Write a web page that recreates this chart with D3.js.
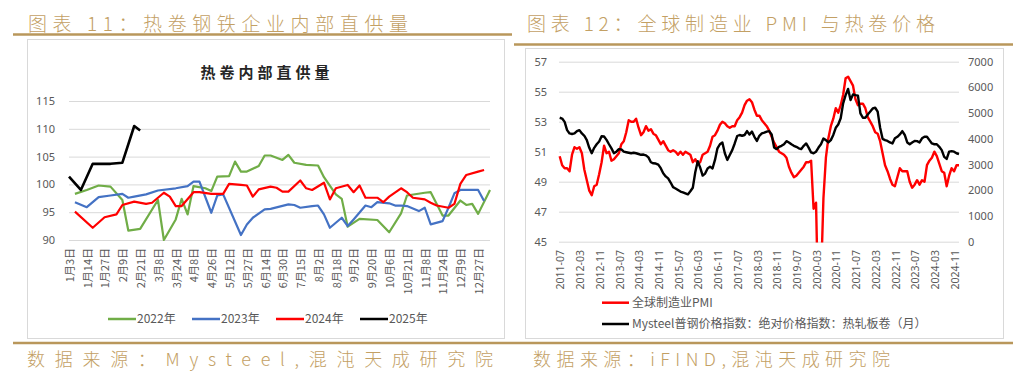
<!DOCTYPE html>
<html><head><meta charset="utf-8">
<script src="https://cdn.jsdelivr.net/npm/d3@7"></script>
<style>
body{margin:0;background:#fff;}
svg{display:block;font-family:'Noto Sans CJK SC','Noto Sans',sans-serif;}
</style>
</head><body>
<svg id="c" width="1026" height="382"></svg>
<script>
// ---------------- DATA: left chart (热卷内部直供量) ----------------
const supplyTickLabels = ["1月3日","1月14日","1月27日","2月9日","2月21日","3月8日","3月24日","4月8日","4月26日","5月12日","5月27日","6月14日","6月30日","7月15日","8月2日","8月18日","9月2日","9月20日","10月6日","10月21日","11月8日","11月24日","12月9日","12月27日"];
const supplyCategoryCount = 72;   // union of dates; one tick label every 3 categories
const supplyLabelEvery = 3;
const supplyYTicks = [90, 95, 100, 105, 110, 115];
const supplySeriesNames = ["2022年","2023年","2024年","2025年"];
const supply2022 = [null,98.3,null,99.0,null,99.8,null,99.6,null,97.2,91.7,null,92.0,null,null,97.2,90.0,null,93.7,97.4,94.6,99.7,null,99.3,98.8,101.4,null,101.5,104.1,102.3,102.3,null,103.3,105.2,105.2,null,104.4,105.3,103.9,null,103.5,null,103.4,101.3,null,98.2,97.4,92.4,null,93.8,null,null,93.6,null,91.4,null,94.8,98.0,null,null,98.5,98.6,null,94.4,94.4,null,97.1,96.3,96.5,94.7,null,99.0];
const supply2023 = [null,96.8,null,95.9,null,97.7,null,98.0,null,98.3,97.6,97.8,null,98.2,null,98.9,null,null,99.3,null,99.7,100.5,100.5,null,94.9,98.0,98.2,null,null,90.9,92.8,94.0,null,95.5,95.6,null,null,96.4,96.3,95.8,null,96.1,96.2,94.6,92.2,null,94.0,92.5,93.7,null,96.2,95.9,96.8,null,96.6,96.2,96.2,96.1,null,95.2,95.8,92.8,null,93.4,95.8,98.4,99.0,null,null,99.0,97.0,null];
const supply2024 = [null,95.1,null,null,92.2,null,94.1,null,94.6,96.3,null,96.9,null,96.5,96.7,null,98.5,97.8,96.1,96.1,null,98.6,98.6,null,98.3,null,98.3,100.1,null,99.9,99.8,97.8,99.1,null,99.6,99.4,98.7,98.7,null,100.7,99.3,99.0,null,100.3,97.3,99.3,null,99.9,98.6,99.8,97.6,null,97.6,96.8,97.8,null,99.3,98.6,97.6,null,97.3,96.7,96.2,null,95.8,96.5,100.1,101.7,null,102.3,102.6,null];
const supply2025 = [101.4,null,99.0,null,103.7,null,null,103.7,null,103.9,null,110.5,109.7];
const supplyColors = ["#70AD47","#4472C4","#FF0000","#000000"];

// ---------------- DATA: right chart (全球制造业PMI 与热卷价格) ----------------
const pmiStart = "2011-07";
const pmiTickLabels = ["2011-07","2012-03","2012-11","2013-07","2014-03","2014-11","2015-07","2016-03","2016-11","2017-07","2018-03","2018-11","2019-07","2020-03","2020-11","2021-07","2022-03","2022-11","2023-07","2024-03","2024-11"];
const pmiLeftTicks = [45,47,49,51,53,55,57];
const priceRightTicks = [0,1000,2000,3000,4000,5000,6000,7000];
const globalPMI = [
50.7,50.1,49.9,49.9,49.7,50.8,
51.3,51.2,51.3,50.9,49.8,49.1,48.4,48.1,48.7,48.8,49.5,50.3,
51.4,50.9,51.0,50.4,50.5,50.7,50.9,51.5,51.7,52.3,53.1,53.0,
53.0,53.2,52.6,52.1,52.3,52.7,52.4,52.5,52.2,52.1,51.8,51.5,
51.7,51.4,51.1,51.0,51.1,51.0,50.8,51.0,50.8,51.0,50.9,50.8,
50.3,50.5,50.2,50.3,50.8,50.9,51.0,51.4,52.0,52.1,52.4,52.8,
53.0,52.9,52.7,52.6,52.7,52.7,53.1,53.3,53.6,54.1,54.4,54.5,
54.3,53.8,53.4,53.4,53.1,52.9,52.7,52.4,52.0,51.6,51.3,51.0,
50.9,50.8,50.6,50.0,49.6,49.3,49.4,49.6,49.8,50.0,50.3,50.3,
50.4,47.2,47.6,39.6,42.4,47.9,50.6,51.9,52.7,53.2,53.9,53.6,
54.1,54.8,55.9,56.0,55.7,55.4,54.5,54.1,54.2,54.2,53.9,53.3,
53.0,52.7,52.3,52.2,51.7,50.9,50.1,49.7,49.2,48.8,48.7,49.3,
49.9,49.7,49.7,49.7,49.0,48.6,48.8,49.1,48.8,49.1,49.0,50.1,
50.4,50.6,51.0,50.7,50.2,49.7,49.6,48.7,49.4,49.9,49.7,50.1,
50.1];
const hrcPrice = [
4820,4790,4660,4340,4210,4190,
4210,4300,4340,4210,4120,3950,3650,3440,3650,3790,3900,4100,
4090,3960,3790,3630,3440,3500,3600,3590,3500,3480,3460,3440,
3460,3440,3410,3380,3390,3360,3280,3090,3050,3040,3000,2860,
2660,2540,2460,2300,2120,2070,2010,1950,1920,1880,1840,1960,
2100,2700,3130,2880,2570,2650,2850,2920,2850,3180,3630,3790,
3860,3440,3180,3370,3560,3820,4110,4150,4120,4150,4300,4170,
4280,4080,3920,4120,4210,4240,4280,4300,4170,3660,3600,3690,
3730,3790,3910,3860,3790,3730,3690,3630,3600,3730,3820,3660,
3470,3440,3500,3660,3790,4010,3950,3860,3950,4150,4430,4560,
4800,5380,5700,5940,5510,5730,5700,5680,4990,4820,4820,4950,
5060,5180,5210,5060,4430,4000,3950,3920,3860,3820,4020,4080,
4170,4300,4150,3860,3790,3860,3920,3910,3860,4020,4080,4080,
3950,3820,3790,3790,3690,3560,3300,3220,3500,3520,3500,3440,
3410];
const pmiLegend = ["全球制造业PMI","Mysteel普钢价格指数：绝对价格指数：热轧板卷（月）"];

// ---------------- TEXTS ----------------
const title11 = "图表 11：热卷钢铁企业内部直供量";
const title12 = "图表 12：全球制造业 PMI 与热卷价格";
const source11 = "数据来源：Mysteel,混沌天成研究院";
const source12 = "数据来源：iFIND,混沌天成研究院";
const innerTitle11 = "热卷内部直供量";

// ---------------- DRAW ----------------
const svg = d3.select("#c");
const gold = "#B9975B", goldText = "#C3A064", grid = "#D9D9D9", axisText = "#595959";

// headers
svg.append("text").attr("x",28).attr("y",31).attr("font-size",19).attr("font-weight",300)
  .attr("fill",goldText).attr("textLength",380).attr("lengthAdjust","spacing").text(title11);
svg.append("text").attr("x",527).attr("y",31).attr("font-size",19).attr("font-weight",300)
  .attr("fill",goldText).attr("textLength",408).attr("lengthAdjust","spacing").text(title12);
svg.append("line").attr("x1",13).attr("x2",512).attr("y1",34.5).attr("y2",34.5).attr("stroke",gold).attr("stroke-width",2.5);
svg.append("line").attr("x1",514).attr("x2",1013).attr("y1",44.5).attr("y2",44.5).attr("stroke",gold).attr("stroke-width",2.5);
svg.append("line").attr("x1",13).attr("x2",1013).attr("y1",343).attr("y2",343).attr("stroke",gold).attr("stroke-width",2.5);
svg.append("text").attr("x",27).attr("y",366).attr("font-size",18).attr("font-weight",300)
  .attr("fill",goldText).attr("textLength",466).attr("lengthAdjust","spacing").text(source11);
svg.append("text").attr("x",533).attr("y",366).attr("font-size",18).attr("font-weight",300)
  .attr("fill",goldText).attr("textLength",357).attr("lengthAdjust","spacing").text(source12);

// ===== Left chart =====
svg.append("rect").attr("x",27.5).attr("y",39.5).attr("width",477).attr("height",299)
  .attr("fill","none").attr("stroke",grid);
const L = svg.append("g");
const xL = d3.scalePoint().domain(d3.range(supplyCategoryCount)).range([69,490]).padding(0);
const yL = d3.scaleLinear().domain([90,115]).range([240,101]);
L.append("text").attr("x",267).attr("y",78).attr("text-anchor","middle").attr("font-size",15)
  .attr("font-weight",700).attr("fill","#262626").attr("letter-spacing",4).text(innerTitle11);
const gyL = L.append("g").attr("transform","translate(69,0)")
  .call(d3.axisLeft(yL).tickValues(supplyYTicks).tickSize(-421).tickPadding(14));
gyL.select(".domain").remove();
gyL.selectAll(".tick line").attr("stroke",grid);
gyL.selectAll(".tick text").attr("fill",axisText).attr("font-size",11).attr("font-family","'Noto Sans','DejaVu Sans',sans-serif");
// x labels
const tickCats = supplyTickLabels.map((t,k)=>({t, c:k*supplyLabelEvery}));
L.append("g").selectAll("text").data(tickCats).join("text")
  .attr("transform",d=>`translate(${xL(d.c)+1},248) rotate(-90)`)
  .attr("text-anchor","end").attr("dy","0.35em").attr("font-size",11).attr("fill",axisText)
  .text(d=>d.t);
const lineL = d3.line().x(d=>xL(d.i)).y(d=>yL(d.v));
[supply2022,supply2023,supply2024,supply2025].forEach((arr,si)=>{
  const pts = arr.map((v,i)=>({i,v})).filter(d=>d.v!=null);
  L.append("path").datum(pts).attr("d",lineL).attr("fill","none")
    .attr("stroke",supplyColors[si]).attr("stroke-width",si===3?2.6:2.2).attr("stroke-linejoin","round");
});
// legend
const legL = L.append("g").selectAll("g").data(supplySeriesNames).join("g")
  .attr("transform",(d,i)=>`translate(${108+i*84},319)`);
legL.append("line").attr("x1",0).attr("x2",28).attr("stroke",(d,i)=>supplyColors[i]).attr("stroke-width",2.5);
legL.append("text").attr("x",29).attr("dy","0.35em").attr("font-size",12).attr("fill",axisText).text(d=>d);

// ===== Right chart =====
svg.append("rect").attr("x",525.5).attr("y",48.5).attr("width",478).attr("height",290)
  .attr("fill","none").attr("stroke",grid);
const R = svg.append("g");
const parseM = d3.timeParse("%Y-%m"), fmtM = d3.timeFormat("%Y-%m");
const months = d3.range(globalPMI.length).map(i=>fmtM(d3.timeMonth.offset(parseM(pmiStart),i)));
const xR = d3.scalePoint().domain(months).range([559.7,959]).padding(0);
const yR = d3.scaleLinear().domain([45,57]).range([241.7,61.7]);
const yR2 = d3.scaleLinear().domain([0,7000]).range([241.7,61.7]);
const gyR = R.append("g").attr("transform","translate(559,0)")
  .call(d3.axisLeft(yR).tickValues(pmiLeftTicks).tickSize(-400).tickPadding(12));
gyR.select(".domain").remove();
gyR.selectAll(".tick line").attr("stroke",grid);
gyR.selectAll(".tick text").attr("fill",axisText).attr("font-size",11).attr("font-family","'Noto Sans','DejaVu Sans',sans-serif");
const gyR2 = R.append("g").attr("transform","translate(959,0)")
  .call(d3.axisRight(yR2).tickValues(priceRightTicks).tickFormat(d3.format("d")).tickSize(0).tickPadding(9));
gyR2.select(".domain").remove();
gyR2.selectAll(".tick text").attr("fill",axisText).attr("font-size",11).attr("font-family","'Noto Sans','DejaVu Sans',sans-serif");
R.append("g").selectAll("text").data(pmiTickLabels).join("text")
  .attr("transform",d=>`translate(${xR(d)+1},250) rotate(-90)`)
  .attr("text-anchor","end").attr("dy","0.35em").attr("font-size",10.5).attr("fill",axisText)
  .attr("font-family","'Noto Sans','DejaVu Sans',sans-serif").text(d=>d);
svg.append("defs").append("clipPath").attr("id","clipR").append("rect")
  .attr("x",555).attr("y",55).attr("width",410).attr("height",187.5);
const plotR = R.append("g").attr("clip-path","url(#clipR)");
plotR.append("path").datum(globalPMI).attr("fill","none").attr("stroke","#FF0000").attr("stroke-width",2.4)
  .attr("stroke-linejoin","round")
  .attr("d",d3.line().x((d,i)=>xR(months[i])).y(d=>yR(d)));
plotR.append("path").datum(hrcPrice).attr("fill","none").attr("stroke","#000000").attr("stroke-width",2.4)
  .attr("stroke-linejoin","round")
  .attr("d",d3.line().x((d,i)=>xR(months[i])).y(d=>yR2(d)));
const legR = R.append("g").selectAll("g").data(pmiLegend).join("g")
  .attr("transform",(d,i)=>`translate(602,${302.7+i*21.3})`);
legR.append("line").attr("x1",0).attr("x2",27).attr("stroke",(d,i)=>i===0?"#FF0000":"#000000").attr("stroke-width",2.5);
legR.append("text").attr("x",30).attr("dy","0.35em").attr("font-size",12).attr("fill",axisText).text(d=>d);
</script>
</body></html>
